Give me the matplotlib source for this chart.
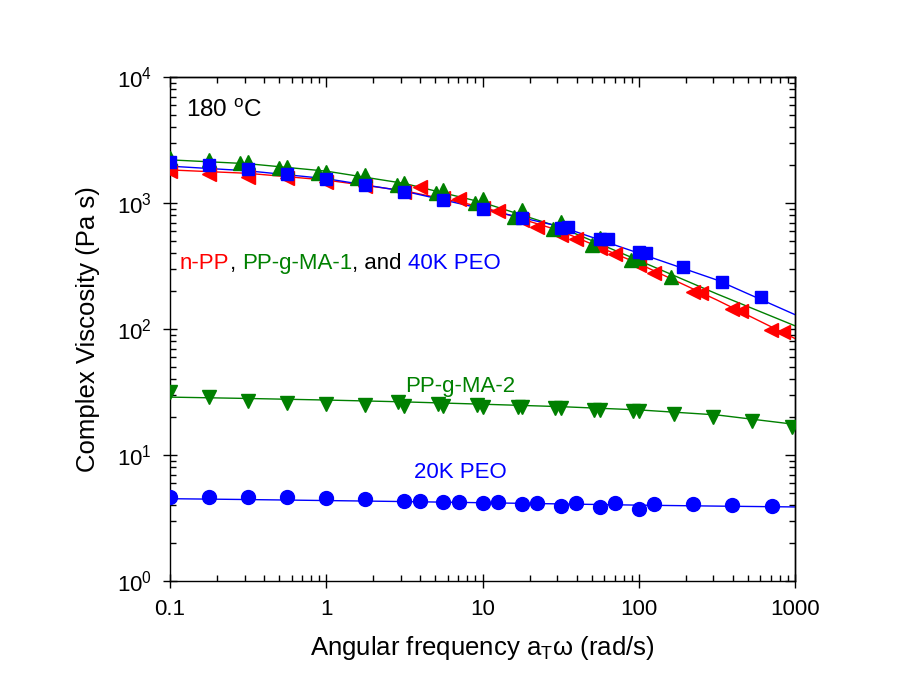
import matplotlib
matplotlib.use("Agg")
import matplotlib.pyplot as plt
from matplotlib.ticker import FixedLocator, FixedFormatter, NullFormatter

plt.rcParams.update({"font.family": "Liberation Sans", "mathtext.fontset": "custom",
                     "mathtext.rm": "Liberation Sans", "mathtext.it": "Liberation Sans:italic"})

RED, GREEN, BLUE = "#ff0000", "#008000", "#0000ff"

npp_x = [0.1, 0.178, 0.316, 0.562, 1, 1.78, 3.16, 3.98, 5.62, 7.08, 10, 12.6, 17.8, 22.4,
         31.6, 39.8, 56.2, 70.8, 100, 126, 224, 252, 394, 454, 703, 834]
npp_y = [1780, 1700, 1620, 1570, 1480, 1360, 1230, 1330, 1100, 1070, 920, 870, 730, 650,
         560, 520, 440, 395, 322, 277, 198, 194, 143, 140, 99, 95]

ma1_x = [0.1, 0.178, 0.28, 0.316, 0.5, 0.562, 0.89, 1, 1.58, 1.78, 2.82, 3.16, 5.01, 5.62,
         8.9, 10, 15.8, 17.8, 28.2, 31.6, 50.1, 56.2, 89.1, 100, 160]
ma1_y = [2260, 2200, 2070, 2130, 1890, 1940, 1720, 1770, 1570, 1670, 1390, 1450, 1210, 1270,
         1000, 1070, 780, 880, 622, 703, 467, 527, 353, 364, 257]

peo40_x = [0.1, 0.178, 0.316, 0.562, 1, 1.78, 3.16, 5.62, 10, 17.8, 31.6, 35.5, 56.2, 63.1,
           100, 112, 193, 342, 603]
peo40_y = [2120, 2000, 1850, 1700, 1545, 1395, 1215, 1058, 900, 758, 635, 640, 515, 515,
           405, 400, 310, 237, 179]

ma2_x = [0.1, 0.178, 0.316, 0.562, 1, 1.78, 2.9, 3.16, 5.2, 5.62, 9.2, 10, 16.8, 17.8,
         29, 31.6, 52, 56.2, 92, 100, 168, 300, 530, 950]
ma2_y = [31.8, 28.7, 27.0, 26.0, 25.2, 24.8, 26.2, 24.3, 25.5, 24.3, 24.8, 24.2, 24.2, 23.9,
         23.4, 23.4, 22.8, 22.8, 22.2, 22.5, 21.0, 20.0, 18.6, 16.8]

peo20_x = [0.1, 0.178, 0.316, 0.562, 1, 1.78, 3.16, 3.98, 5.62, 7.08, 10, 12.6, 17.8, 22.4,
           31.6, 39.8, 56.2, 70.8, 100, 126, 224, 398, 708]
peo20_y = [4.67, 4.67, 4.61, 4.61, 4.53, 4.47, 4.31, 4.34, 4.24, 4.26, 4.18, 4.21, 4.08, 4.18,
           3.96, 4.13, 3.85, 4.13, 3.73, 4.08, 4.06, 4.01, 3.96]

# ---- fitted curves (read at a few frequencies) ----
fit_x = [0.1, 0.316, 1, 3.16, 10, 31.6, 100, 316, 1000]
npp_fit = [1830, 1720, 1520, 1250, 930, 600, 330, 170, 84]
ma1_fit = [2200, 2050, 1790, 1430, 1010, 640, 350, 190, 106]
peo40_fit = [1960, 1800, 1560, 1240, 900, 650, 400, 245, 130]
ma2_fit = [28.8, 28.1, 27.3, 26.4, 25.3, 24.2, 22.8, 20.8, 17.5]
peo20_fit = [4.5, 4.43, 4.35, 4.27, 4.18, 4.09, 4.0, 3.93, 3.87]

xticks = [0.1, 1, 10, 100, 1000]
xticklabels = ["0.1", "1", "10", "100", "1000"]

fig = plt.figure(figsize=(9.07, 6.96), dpi=100)
ax = fig.add_axes([170 / 907, 1 - 581 / 696, 625 / 907, 504 / 696])
ax.set_xscale("log"); ax.set_yscale("log")

series = [
    (npp_x, npp_y, npp_fit, RED, "<", 10.5),
    (ma1_x, ma1_y, ma1_fit, GREEN, "^", 10.5),
    (peo40_x, peo40_y, peo40_fit, BLUE, "s", 9.3),
    (ma2_x, ma2_y, ma2_fit, GREEN, "v", 10.5),
    (peo20_x, peo20_y, peo20_fit, BLUE, "o", 10),
]
for xs, ys, fy, c, m, ms in series:
    ax.plot(fit_x, fy, "-", color=c, lw=1.0, zorder=2)
for xs, ys, fy, c, m, ms in series:
    ax.plot(xs, ys, ls="none", marker=m, ms=ms, color=c, mec=c, zorder=3)

ax.set_xlim(0.1, 1000); ax.set_ylim(1, 1e4)
ax.xaxis.set_major_locator(FixedLocator(xticks))
ax.xaxis.set_major_formatter(FixedFormatter(xticklabels))
ax.xaxis.set_minor_formatter(NullFormatter())
ax.yaxis.set_minor_formatter(NullFormatter())
ax.tick_params(which="major", direction="inout", length=10, width=1, labelsize=16, pad=8)
ax.tick_params(which="minor", direction="in", length=4, width=1)
for s in ax.spines.values():
    s.set_linewidth(1.0)

top = ax.secondary_xaxis("top")
right = ax.secondary_yaxis("right")
top.xaxis.set_major_locator(FixedLocator(xticks))
for sec, axis in ((top, top.xaxis), (right, right.yaxis)):
    axis.set_major_formatter(NullFormatter()); axis.set_minor_formatter(NullFormatter())
    sec.tick_params(which="major", direction="in", length=7, width=1)
    sec.tick_params(which="minor", direction="in", length=4, width=1)
    for s in sec.spines.values():
        s.set_linewidth(1.0)

ax.set_xlabel("Angular frequency a$_\\mathrm{T}$ω (rad/s)", fontsize=18.5, labelpad=10)
ax.set_ylabel("Complex Viscosity (Pa s)", fontsize=18.5, labelpad=12)

ax.text(0.026, 0.92, "180 $^\\mathrm{o}$C", fontsize=17.5, transform=ax.transAxes, va="baseline")

# multi-coloured label for the upper group
pieces = ["n-PP", ",", "PP-g-MA-1", ", and", "40K PEO"]
piece_colors = [RED, "black", GREEN, "black", BLUE]
gaps = [0, 0, 1, 0, 1]
prev = ax.text(0.016, 0.6185, pieces[0], color=piece_colors[0], fontsize=16,
               transform=ax.transAxes, va="baseline")
for s, c, g in zip(pieces[1:], piece_colors[1:], gaps[1:]):
    prev = ax.annotate(s, xy=(1, 0), xycoords=prev, xytext=(g * 4.45, 0),
                       textcoords="offset points", va="bottom", ha="left", color=c, fontsize=16)

ax.text(0.464, 0.375, "PP-g-MA-2", color=GREEN, fontsize=16, ha="center", va="baseline",
        transform=ax.transAxes)
ax.text(0.464, 0.204, "20K PEO", color=BLUE, fontsize=16, ha="center", va="baseline",
        transform=ax.transAxes)

fig.savefig("out.png", dpi=100)
